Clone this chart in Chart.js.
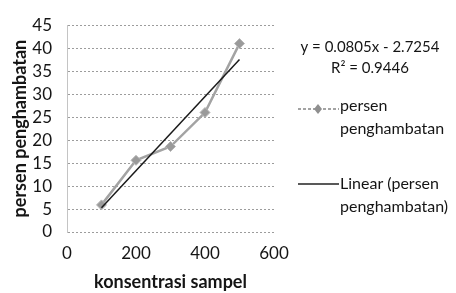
<!DOCTYPE html>
<html>
<head>
<meta charset="utf-8">
<script src="https://cdn.jsdelivr.net/npm/chart.js@4"></script>
<style>
  html, body { margin: 0; padding: 0; background: #fff; }
</style>
</head>
<body>
<canvas id="myChart" width="456" height="293"></canvas>
<script>
const konsentrasi = [100, 200, 300, 400, 500];
const penghambatan = [5.9, 15.6, 18.6, 26.0, 41.0];
const xTicks = [0, 200, 400, 600];
const yTicks = [0, 5, 10, 15, 20, 25, 30, 35, 40, 45];
const equationText = ['y = 0.0805x - 2.7254', 'R² = 0.9446'];
const legendSeries = ['persen', 'penghambatan'];
const legendTrend = ['Linear (persen', 'penghambatan)'];

// least squares trend line from the data
const n = konsentrasi.length;
const mx = konsentrasi.reduce((a, b) => a + b, 0) / n;
const my = penghambatan.reduce((a, b) => a + b, 0) / n;
let sxy = 0, sxx = 0;
for (let i = 0; i < n; i++) {
    sxy += (konsentrasi[i] - mx) * (penghambatan[i] - my);
    sxx += (konsentrasi[i] - mx) * (konsentrasi[i] - mx);
}
const slope = sxy / sxx;
const intercept = my - slope * mx;
const trendX = [konsentrasi[0], konsentrasi[n - 1]];

const FONT = 'Lato, "Open Sans", sans-serif';
const TEXT = '#151515';
const seriesGray = '#a3a3a3';

const sideText = {
    id: 'sideText',
    afterDraw(chart) {
        const c = chart.ctx;
        c.save();
        c.fillStyle = TEXT;
        c.font = '15px ' + FONT;
        c.textAlign = 'center';
        c.textBaseline = 'middle';
        c.fillText(equationText[0], 370, 47);
        c.fillText(equationText[1], 370, 68);

        // legend entry: data series
        c.strokeStyle = seriesGray;
        c.lineWidth = 2;
        c.setLineDash([3, 2]);
        c.beginPath();
        c.moveTo(298, 109);
        c.lineTo(339, 109);
        c.stroke();
        c.setLineDash([]);
        c.fillStyle = '#8f8f8f';
        const s = 5;
        c.beginPath();
        c.moveTo(318, 109 - s); c.lineTo(322, 109); c.lineTo(318, 109 + s); c.lineTo(314, 109);
        c.closePath();
        c.fill();

        c.fillStyle = TEXT;
        c.font = '16px ' + FONT;
        c.textAlign = 'left';
        c.fillText(legendSeries[0], 340, 106);
        c.fillText(legendSeries[1], 340, 129);

        // legend entry: linear trend
        c.strokeStyle = '#222';
        c.lineWidth = 1.5;
        c.beginPath();
        c.moveTo(298, 184);
        c.lineTo(339, 184);
        c.stroke();
        c.fillText(legendTrend[0], 340, 184);
        c.fillText(legendTrend[1], 340, 207);
        c.restore();
    }
};

const ctx = document.getElementById('myChart').getContext('2d');
var myChart = new Chart(ctx, {
    type: 'scatter',
    data: {
        datasets: [{
            label: 'persen penghambatan',
            data: konsentrasi.map((x, i) => ({ x: x, y: penghambatan[i] })),
            showLine: true,
            borderColor: seriesGray,
            backgroundColor: '#9a9a9a',
            borderWidth: 2.5,
            pointStyle: 'rectRot',
            pointRadius: 5,
            pointBorderColor: '#b5b5b5',
            pointBorderWidth: 1,
            order: 2
        }, {
            label: 'Linear (persen penghambatan)',
            data: trendX.map(x => ({ x: x, y: slope * x + intercept })),
            showLine: true,
            borderColor: '#1a1a1a',
            borderWidth: 1.5,
            pointRadius: 0,
            order: 1
        }]
    },
    plugins: [sideText],
    options: {
        responsive: false,
        animation: false,
        layout: { padding: { left: 0, right: 182, top: 10, bottom: 0 } },
        plugins: {
            legend: { display: false },
            tooltip: { enabled: false }
        },
        scales: {
            x: {
                type: 'linear',
                min: 0,
                max: 600,
                afterBuildTicks: axis => { axis.ticks = xTicks.map(v => ({ value: v })); },
                afterFit: axis => { axis.height = 61; },
                grid: { display: false, drawTicks: false },
                border: { display: false },
                ticks: { autoSkip: false, maxRotation: 0, color: TEXT, font: { family: FONT, size: 17 }, padding: 11 },
                title: {
                    display: true,
                    text: 'konsentrasi sampel',
                    color: TEXT,
                    font: { family: FONT, size: 18, weight: 'bold' },
                    padding: { top: 0, bottom: 0 }
                }
            },
            y: {
                min: 0,
                max: 45,
                afterBuildTicks: axis => { axis.ticks = yTicks.map(v => ({ value: v })); },
                afterFit: axis => { axis.width = 67; },
                grid: { color: '#9c9c9c', drawTicks: false },
                border: { display: true, color: '#c4c4c4', dash: [2, 2] },
                ticks: { autoSkip: false, color: TEXT, font: { family: FONT, size: 17 }, padding: 15 },
                title: {
                    display: true,
                    text: 'persen penghambatan',
                    color: TEXT,
                    font: { family: FONT, size: 18, weight: 'bold' },
                    padding: { top: 9, bottom: 0 }
                }
            }
        }
    }
});
</script>
</body>
</html>
